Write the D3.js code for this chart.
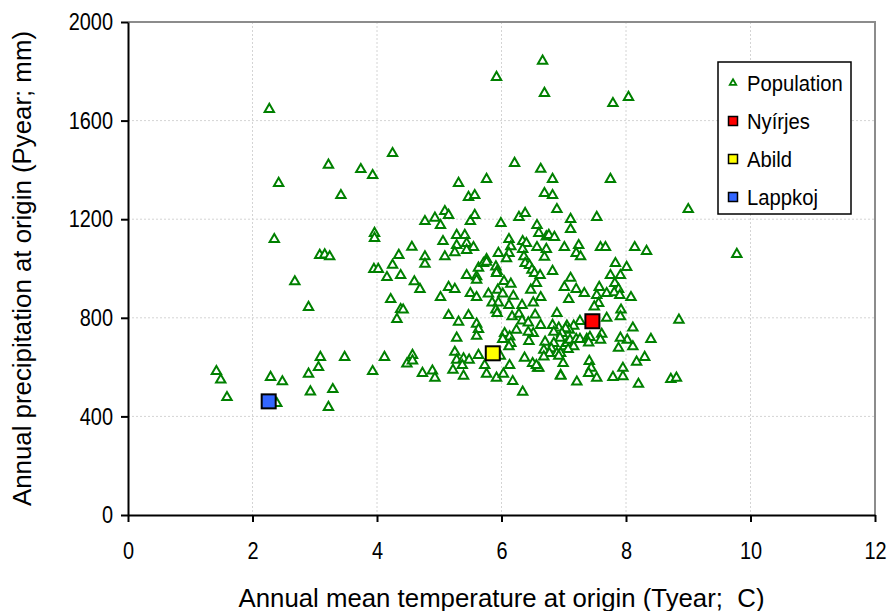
<!DOCTYPE html>
<html>
<head>
<meta charset="utf-8">
<script src="https://cdnjs.cloudflare.com/ajax/libs/d3/7.8.5/d3.min.js"></script>
<style>
  body { margin: 0; background: #fff; }
  svg { font-family: "Liberation Sans", Arial, sans-serif; }
</style>
</head>
<body>
<svg id="chart" width="889" height="611"></svg>
<script>
// population: annual mean temperature (C) and annual precipitation (mm)
const popTemp = [
  2.27, 4.25, 3.22, 3.74, 3.93, 2.42, 3.42, 2.35, 3.96, 3.96, 4.56, 4.35, 3.08, 3.16, 3.24,
  2.68, 3.95, 4.02, 4.25, 4.16, 4.38, 4.6, 4.69, 2.9, 4.22, 4.38, 4.42, 4.32,
  3.09, 3.48, 4.12, 4.57, 4.48, 4.57, 3.06, 2.9, 3.93, 1.42, 1.49, 1.59, 2.29, 2.48, 2.93, 3.29, 3.22, 2.39,
  6.66, 5.92, 6.69, 7.79, 8.04, 6.21, 6.63, 6.82, 7.75, 5.76, 5.31, 5.47, 5.57, 6.69, 6.82, 6.89, 9.0,
  5.09, 5.15, 4.93, 4.77, 5.02, 5.5, 5.57, 5.99, 6.28, 6.38, 6.57, 7.11, 7.11, 7.53, 6.6, 6.72, 6.76, 6.85,
  5.28, 5.41, 5.06, 6.12, 6.34, 6.4, 6.57, 6.72, 7.01, 7.24, 7.59, 7.67, 8.14, 8.33, 5.28, 5.44, 5.25, 5.55,
  5.95, 6.15, 6.12, 6.34, 4.77, 5.09, 5.76, 7.2, 7.27, 6.36, 6.69, 9.78,
  5.44, 4.77, 5.02, 5.15, 5.25, 5.44, 5.6, 5.6, 5.5, 5.6, 5.63, 5.71, 5.76, 5.91, 5.93, 5.92, 6.08, 6.38,
  6.45, 6.49, 6.53, 6.04, 6.15, 5.94, 6.02, 6.19, 6.47, 6.56, 5.79,
  5.85, 5.95, 6.12, 6.33, 6.51, 5.15, 5.31, 5.47, 5.6, 5.63, 5.6, 5.28, 5.91, 5.93, 6.17, 6.28, 6.33, 6.43,
  6.54, 6.51, 6.43, 6.44, 6.05, 6.13, 6.15, 6.12, 6.02, 6.24, 5.25, 5.28, 5.39, 5.48, 5.37, 5.22, 5.39, 5.63,
  5.73, 5.76, 5.92, 6.03, 6.13, 6.18, 6.34, 6.37, 6.5, 6.58, 5.98, 4.73, 4.89, 4.93,
  6.62, 6.82, 7.83, 8.01, 7.91, 7.75, 7.11, 7.01, 7.2, 7.33, 7.57, 7.53, 7.56, 7.49, 7.69, 7.82, 7.88, 7.81,
  7.9, 8.08, 7.92, 7.91, 7.69, 8.11, 8.4, 8.85, 7.08, 7.26, 7.16, 7.05, 7.09, 7.03, 6.92, 6.82, 6.84, 6.97,
  6.94, 6.84, 7.01, 6.7, 6.8, 6.68, 6.77, 6.68, 6.89, 6.99, 7.05, 7.1, 7.16, 7.2, 7.26, 7.37, 7.42, 7.4,
  7.61, 7.59, 7.41, 7.44, 7.4, 7.53, 6.95, 7.21, 7.79, 7.95, 7.95, 7.88, 8.11, 8.02, 7.91, 8.17, 8.3, 8.2,
  8.72, 8.81, 6.63, 6.89, 6.63, 6.95, 6.92, 6.6, 6.56, 6.95, 7.07
];
const popPrec = [
  1646, 1467, 1420, 1402, 1378, 1346, 1297, 1118, 1143, 1123, 1087, 1054, 1054, 1056, 1048,
  947, 997, 997, 1014, 964, 972, 947, 916, 843, 875, 834, 832, 794,
  640, 640, 640, 648, 613, 626, 599, 572, 583, 583, 548, 477, 559, 541, 500, 510, 437, 453,
  1842, 1776, 1711, 1670, 1695, 1427, 1403, 1362, 1362, 1362, 1346, 1289, 1297, 1305, 1297, 1240, 1240,
  1232, 1216, 1205, 1191, 1175, 1191, 1216, 1183, 1208, 1224, 1175, 1200, 1159, 1208, 1143, 1129, 1135, 1127,
  1135, 1135, 1110, 1118, 1110, 1102, 1086, 1078, 1086, 1094, 1086, 1086, 1086, 1070, 1094, 1102, 1065, 1086,
  1062, 1089, 1062, 1078, 1048, 1048, 1037, 1062, 1048, 1048, 1046, 1058,
  1074, 1018, 883, 924, 916, 972, 967, 953, 899, 883, 1002, 1021, 1026, 1007, 989, 981, 1040, 1021,
  1013, 994, 981, 948, 937, 913, 897, 888, 913, 940, 897,
  861, 861, 851, 851, 861, 810, 783, 810, 775, 753, 726, 718, 832, 818, 805, 815, 788, 780,
  812, 737, 742, 705, 737, 723, 697, 683, 713, 750, 661, 629, 634, 629, 607, 588, 564, 648,
  607, 572, 556, 572, 607, 542, 499, 637, 615, 596, 645, 575, 585, 556,
  972, 989, 1021, 1005, 972, 972, 961, 924, 916, 899, 924, 891, 859, 845, 899, 940, 916, 902,
  891, 883, 832, 805, 799, 759, 713, 791, 875, 786, 767, 767, 750, 756, 759, 770, 742, 737,
  718, 697, 683, 702, 675, 669, 656, 642, 656, 615, 697, 710, 683, 713, 713, 713, 721, 699,
  734, 710, 624, 596, 575, 556, 567, 540, 559, 562, 596, 677, 683, 710, 718, 621, 640, 531,
  551, 556, 883, 818, 770, 656, 645, 596, 607, 564, 672
];

// the three named sites
const siteNames = ["Nyírjes", "Abild", "Lappkoj"];
const siteTemp = [7.46, 5.86, 2.26];
const sitePrec = [786, 656, 461];
const siteColors = ["#ff0000", "#ffff00", "#3366ff"];

const xTicks = [0, 2, 4, 6, 8, 10, 12];
const yTicks = [0, 400, 800, 1200, 1600, 2000];

const margin = { left: 128, right: 14, top: 22, bottom: 96 };
const W = 889, H = 611;

const svg = d3.select("#chart");

const x = d3.scaleLinear().domain([0, 12]).range([margin.left, W - margin.right]);
const y = d3.scaleLinear().domain([0, 2000]).range([H - margin.bottom, margin.top]);

// squeeze text horizontally so it looks like the narrow chart font
function squeeze(sel, k) {
  sel.each(function () {
    const w = this.getComputedTextLength();
    d3.select(this).attr("textLength", w * k).attr("lengthAdjust", "spacingAndGlyphs");
  });
}

// gridlines
svg.append("g").selectAll("line")
  .data(xTicks.slice(1, -1))
  .enter().append("line")
  .attr("x1", d => x(d)).attr("x2", d => x(d))
  .attr("y1", y(2000)).attr("y2", y(0))
  .attr("stroke", "#d4d4d4").attr("stroke-width", 1)
  .attr("stroke-dasharray", "2,2");

svg.append("g").selectAll("line")
  .data(yTicks.slice(1, -1))
  .enter().append("line")
  .attr("x1", x(0)).attr("x2", x(12))
  .attr("y1", d => y(d)).attr("y2", d => y(d))
  .attr("stroke", "#d4d4d4").attr("stroke-width", 1)
  .attr("stroke-dasharray", "2,2");

// top and right border
svg.append("path")
  .attr("d", `M${x(0)},${y(2000)}H${x(12)}V${y(0)}`)
  .attr("fill", "none")
  .attr("stroke", "#8c8c8c")
  .attr("stroke-width", 2);

// axes
const xAxis = svg.append("g")
  .attr("transform", `translate(0,${y(0)})`)
  .call(d3.axisBottom(x).tickValues(xTicks).tickFormat(d3.format("d"))
    .tickSize(7).tickSizeOuter(0).tickPadding(20));

const yAxis = svg.append("g")
  .attr("transform", `translate(${x(0)},0)`)
  .call(d3.axisLeft(y).tickValues(yTicks).tickFormat(d3.format("d"))
    .tickSize(7).tickSizeOuter(0).tickPadding(8));

[xAxis, yAxis].forEach(a => {
  a.select(".domain").attr("stroke", "#000").attr("stroke-width", 2);
  a.selectAll(".tick line").attr("stroke", "#000").attr("stroke-width", 2);
  a.selectAll(".tick text")
    .attr("fill", "#000")
    .style("font-size", "24px")
    .style("font-family", "'Liberation Sans', Arial, sans-serif")
    .call(squeeze, 0.83);
});

// population triangles
const tri = d3.symbol().type(d3.symbolTriangle).size(38);
svg.append("g").selectAll("path")
  .data(popTemp.map((t, i) => ({ t: t, p: popPrec[i] })))
  .enter().append("path")
  .attr("d", tri)
  .attr("transform", d => `translate(${x(d.t)},${y(d.p)})`)
  .attr("fill", "#fff")
  .attr("stroke", "#008000")
  .attr("stroke-width", 2);

// sites
svg.append("g").selectAll("rect")
  .data(siteNames.map((n, i) => ({ n: n, t: siteTemp[i], p: sitePrec[i], c: siteColors[i] })))
  .enter().append("rect")
  .attr("x", d => x(d.t) - 7)
  .attr("y", d => y(d.p) - 7)
  .attr("width", 14).attr("height", 14)
  .attr("fill", d => d.c)
  .attr("stroke", "#000")
  .attr("stroke-width", 2);

// axis titles
svg.append("text")
  .attr("x", (x(0) + x(12)) / 2)
  .attr("y", 607)
  .attr("text-anchor", "middle")
  .attr("xml:space", "preserve")
  .style("white-space", "pre")
  .style("font-size", "25px")
  .attr("textLength", 526)
  .attr("lengthAdjust", "spacingAndGlyphs")
  .text("Annual mean temperature at origin (Tyear;  C)");

svg.append("text")
  .attr("transform", `translate(31,${(y(0) + y(2000)) / 2}) rotate(-90)`)
  .attr("text-anchor", "middle")
  .style("font-size", "25px")
  .attr("textLength", 475)
  .attr("lengthAdjust", "spacingAndGlyphs")
  .text("Annual precipitation at origin (Pyear; mm)");

// legend
const legend = svg.append("g").attr("transform", "translate(718,62)");
legend.append("rect")
  .attr("width", 133).attr("height", 152)
  .attr("fill", "#fff").attr("stroke", "#000").attr("stroke-width", 1.5);

const legendItems = ["Population"].concat(siteNames);
const legendRows = legend.selectAll("g.item")
  .data(legendItems)
  .enter().append("g")
  .attr("class", "item")
  .attr("transform", (d, i) => `translate(15,${21 + i * 38})`);

legendRows.filter((d, i) => i === 0).append("path")
  .attr("d", d3.symbol().type(d3.symbolTriangle).size(18))
  .attr("fill", "#fff").attr("stroke", "#008000").attr("stroke-width", 1.8);

legendRows.filter((d, i) => i > 0).append("rect")
  .attr("x", -4.5).attr("y", -4.5).attr("width", 9).attr("height", 9)
  .attr("fill", (d, i) => siteColors[i])
  .attr("stroke", "#000").attr("stroke-width", 1.5);

legendRows.append("text")
  .attr("x", 14)
  .attr("dy", "0.36em")
  .style("font-size", "22px")
  .text(d => d)
  .call(squeeze, 0.92);
</script>
</body>
</html>
